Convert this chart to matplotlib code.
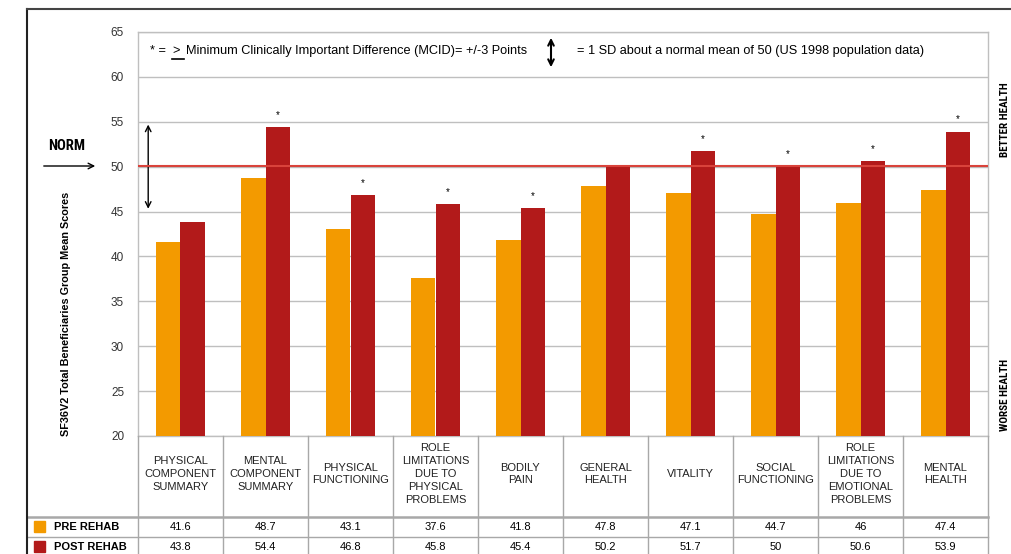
import numpy as np
import matplotlib.pyplot as plt
from matplotlib.lines import Line2D
from matplotlib.patches import Rectangle

plt.rcParams['font.family'] = ['Liberation Sans', 'DejaVu Sans']

# Data
categories = ["PHYSICAL\nCOMPONENT\nSUMMARY", "MENTAL\nCOMPONENT\nSUMMARY",
              "PHYSICAL\nFUNCTIONING", "ROLE\nLIMITATIONS\nDUE TO\nPHYSICAL\nPROBLEMS",
              "BODILY\nPAIN", "GENERAL\nHEALTH", "VITALITY", "SOCIAL\nFUNCTIONING",
              "ROLE\nLIMITATIONS\nDUE TO\nEMOTIONAL\nPROBLEMS", "MENTAL\nHEALTH"]
pre_rehab = [41.6, 48.7, 43.1, 37.6, 41.8, 47.8, 47.1, 44.7, 46, 47.4]
post_rehab = [43.8, 54.4, 46.8, 45.8, 45.4, 50.2, 51.7, 50, 50.6, 53.9]
pre_labels = ["41.6", "48.7", "43.1", "37.6", "41.8", "47.8", "47.1", "44.7", "46", "47.4"]
post_labels = ["43.8", "54.4", "46.8", "45.8", "45.4", "50.2", "51.7", "50", "50.6", "53.9"]
mcid_flag = [False, True, True, True, True, False, True, True, True, True]
norm_value = 50
yticks = [20, 25, 30, 35, 40, 45, 50, 55, 60, 65]

PRE_COLOR = "#F39A00"
POST_COLOR = "#B21A1A"
GRID = "#BFBFBF"
TABLE = "#A8A8A8"
NARROW = ['Roboto Condensed', 'Liberation Sans']

W, H = 1012, 554

def fx(x):
    return x / W

def fy(y):
    return 1 - y / H

fig = plt.figure(figsize=(W/100, H/100), dpi=100)
ax = fig.add_axes([fx(138), fy(436), (988-138)/W, (436-32)/H])
ft = fig.transFigure

x = np.arange(len(categories))
bw = 0.288
ax.bar(x - bw/2, pre_rehab, bw, color=PRE_COLOR, zorder=3)
ax.bar(x + bw/2, post_rehab, bw, color=POST_COLOR, zorder=3)

# asterisks over post bars that pass the MCID
for i, flag in enumerate(mcid_flag):
    if flag:
        ax.text(x[i] + bw/2, post_rehab[i] + 0.8, "*", ha='center', va='bottom', fontsize=7)

ax.set_xlim(-0.5, len(categories) - 0.5)
ax.set_ylim(20, 65)
ax.set_yticks(yticks)
ax.set_xticks([])
ax.tick_params(axis='y', length=0, labelsize=8.5, pad=10, labelcolor='#333333')
ax.yaxis.grid(True, color=GRID, lw=1, zorder=0)
for s in ax.spines.values():
    s.set_color(GRID)
    s.set_linewidth(1)

# norm line
ax.axhline(norm_value + 0.1, color="#D9433B", lw=1.5, zorder=4)

# 1 SD double arrow
ax.annotate("", xy=(-0.38, 45), xytext=(-0.38, 55),
            arrowprops=dict(arrowstyle='<->', lw=1, color='black'))

fig.text(fx(66.5), fy(314), "SF36V2 Total Beneficiaries Group Mean Scores", fontsize=7.8,
         fontweight='bold', rotation=90, ha='center', va='center')

# table below the plot
for k in range(len(categories) + 1):
    xp = 138 + k * 85
    fig.add_artist(Line2D([fx(xp), fx(xp)], [fy(436), fy(554)], color=TABLE, lw=1))
for yp, lw in [(517, 1.8), (537, 1)]:
    fig.add_artist(Line2D([fx(27), fx(988)], [fy(yp), fy(yp)], color=TABLE, lw=lw))

for i, cat in enumerate(categories):
    cx = 138 + 85 * i + 42.5
    fig.text(fx(cx), fy(474), cat, ha='center', va='center', fontsize=8,
             linespacing=1.35, color="#222222")
    fig.text(fx(cx), fy(527.5), pre_labels[i], ha='center', va='center', fontsize=8)
    fig.text(fx(cx), fy(547.5), post_labels[i], ha='center', va='center', fontsize=8)

fig.add_artist(Rectangle((fx(34), fy(532)), 11/W, 11/H, color=PRE_COLOR, transform=ft))
fig.add_artist(Rectangle((fx(34), fy(552)), 11/W, 11/H, color=POST_COLOR, transform=ft))
fig.text(fx(54), fy(527), "PRE REHAB", fontsize=8, fontweight='bold', va='center')
fig.text(fx(54), fy(547), "POST REHAB", fontsize=8, fontweight='bold', va='center')

# outer frame
fig.add_artist(Line2D([fx(27.5), fx(27.5)], [fy(8.5), fy(554)], color='#222222', lw=1.5))
fig.add_artist(Line2D([fx(27.5), fx(1012)], [fy(8.5), fy(8.5)], color='#444444', lw=1.5))

# top note
fig.text(fx(150), fy(51), "* =", fontsize=9.2, va='center')
fig.text(fx(172), fy(51), ">", fontsize=9.2, va='center')
fig.add_artist(Line2D([fx(172), fx(184.5)], [fy(59), fy(59)], color='black', lw=1.2))
fig.text(fx(186), fy(51), "Minimum Clinically Important Difference (MCID)= +/-3 Points",
         fontsize=9.2, va='center')
fig.text(fx(577), fy(51), "= 1 SD about a normal mean of 50 (US 1998 population data)",
         fontsize=9.2, va='center')
ax.annotate("", xy=(fx(551), fy(70)), xytext=(fx(551), fy(35)), xycoords=ft,
            textcoords=ft, arrowprops=dict(arrowstyle='<->', lw=1.5, color='black'),
            annotation_clip=False)

# NORM marker
fig.text(fx(67), fy(146), "NORM", fontsize=10.5, fontweight='bold', ha='center',
         va='center', family=NARROW)
ax.annotate("", xy=(fx(98), fy(166)), xytext=(fx(41), fy(166)), xycoords=ft,
            textcoords=ft, arrowprops=dict(arrowstyle='->', lw=1, color='black'),
            annotation_clip=False)

# side labels
fig.text(fx(1000), fy(120), "BETTER HEALTH", rotation=90, fontsize=8, fontweight='bold',
         ha='left', va='center', family=NARROW)
fig.text(fx(1000), fy(395), "WORSE HEALTH", rotation=90, fontsize=8, fontweight='bold',
         ha='left', va='center', family=NARROW)

fig.savefig("out.png", dpi=100)
